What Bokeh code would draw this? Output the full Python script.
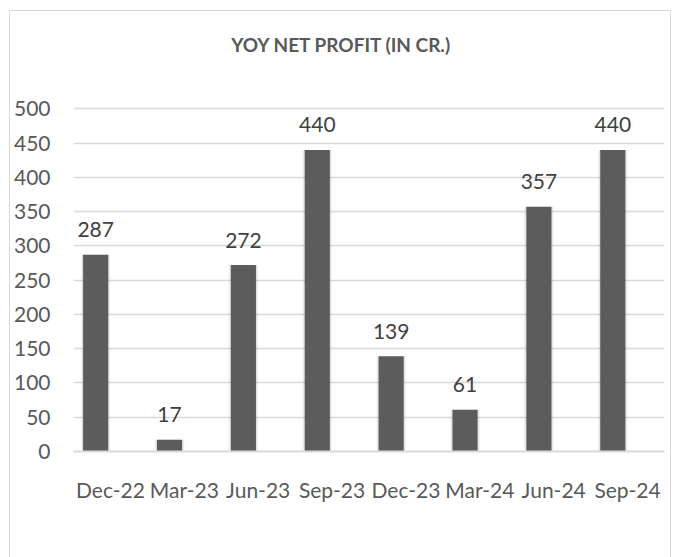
from bokeh.plotting import figure
from bokeh.models import ColumnDataSource, Range1d, FixedTicker
from bokeh.core.properties import value
from bokeh.embed import file_html
from bokeh.resources import INLINE

quarters = ["Dec-22", "Mar-23", "Jun-23", "Sep-23", "Dec-23", "Mar-24", "Jun-24", "Sep-24"]
profit = [287, 17, 272, 440, 139, 61, 357, 440]
y_ticks = [0, 50, 100, 150, 200, 250, 300, 350, 400, 450, 500]
title_text = "YOY NET PROFIT (IN CR.)"

pos = list(range(len(quarters)))
bar_pos = [i - 0.2 for i in pos]
src = ColumnDataSource(dict(x=bar_pos, top=profit, label=[str(v) for v in profit]))

FONT = "Lato"
# the frame extends above the last tick so the title can sit in the empty headroom
Y_TOP = 642
TITLE_Y = 594
TITLE_X = 3.13

p = figure(width=662, height=550, output_backend="svg", toolbar_location=None,
           x_range=Range1d(-0.5, len(quarters) - 0.5), y_range=Range1d(0, Y_TOP),
           min_border_left=63, min_border_right=8, min_border_bottom=110, min_border_top=0)
p.title = None
p.styles = {"border": "1px solid #d9d9d9", "margin-left": "9px", "margin-top": "10px"}
p.outline_line_color = None
p.background_fill_color = "white"
p.border_fill_color = "white"

p.text(x=[TITLE_X], y=[TITLE_Y], text=[title_text], text_align="center", text_baseline="middle",
       text_font=value(FONT), text_font_size="19px", text_font_style="bold", text_color="#595959")

# soft shadow
p.vbar(x="x", top="top", width=0.40, source=src, fill_color="#000000", fill_alpha=0.05, line_color=None)
p.vbar(x="x", top="top", width=0.37, source=src, fill_color="#000000", fill_alpha=0.07, line_color=None)
p.vbar(x="x", top="top", width=0.34, source=src, fill_color="#5c5c5c", line_color=None)

p.text(x="x", y="top", text="label", source=src, text_align="center", text_baseline="middle",
       y_offset=-25, text_font=value(FONT), text_font_size="21px", text_color="#404040")

p.xaxis.ticker = FixedTicker(ticks=pos)
p.xaxis.major_label_overrides = {i: q for i, q in enumerate(quarters)}
p.xaxis.major_label_text_font = FONT
p.xaxis.major_label_text_font_size = "21px"
p.xaxis.major_label_text_color = "#595959"
p.xaxis.major_label_standoff = 19
p.xaxis.major_tick_line_color = None
p.xaxis.minor_tick_line_color = None
p.xaxis.axis_line_color = "#d9d9d9"
p.xaxis.axis_line_width = 2

p.yaxis.ticker = FixedTicker(ticks=y_ticks)
p.yaxis.major_label_text_font = FONT
p.yaxis.major_label_text_font_size = "21px"
p.yaxis.major_label_text_color = "#595959"
p.yaxis.major_label_standoff = 17
p.yaxis.major_tick_line_color = None
p.yaxis.minor_tick_line_color = None
p.yaxis.axis_line_color = None

p.xgrid.grid_line_color = None
p.ygrid.grid_line_color = "#d9d9d9"
p.ygrid.grid_line_width = 1.5

open("out.html", "w").write(file_html(p, INLINE))
